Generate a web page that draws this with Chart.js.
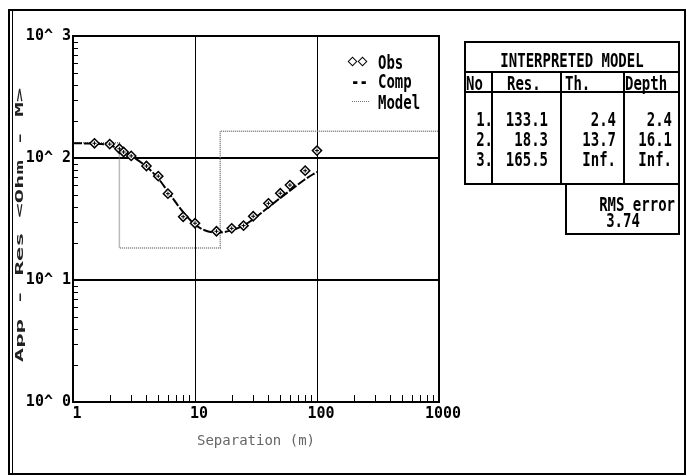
<!DOCTYPE html>
<html>
<head>
<meta charset="utf-8">
<script src="https://cdn.jsdelivr.net/npm/chart.js@4/dist/chart.umd.min.js"></script>
<style>
  html,body{margin:0;padding:0;background:#fff;}
  #wrap{position:relative;width:687px;height:476px;overflow:hidden;background:#fff;}
  #c{position:absolute;left:0;top:0;}
  .frame{position:absolute;left:8px;top:9px;width:678px;height:466px;box-sizing:border-box;border:2px solid #000;}
  .vline{position:absolute;background:#000;}
  .t{position:absolute;font:bold 14px 'DejaVu Sans Mono',monospace;line-height:14px;height:14px;white-space:pre;color:#000;transform:scaleY(1.4);transform-origin:50% 50%;}
  .r{text-align:right;}
  .dia{position:absolute;width:5px;height:5px;border:1.5px solid #000;background:#fff;transform:rotate(45deg);}
  .ytitle{position:absolute;left:20px;top:225px;font:bold 12px 'DejaVu Sans Mono',monospace;white-space:pre;color:#222;transform:translate(-50%,-50%) rotate(-90deg) scale(2,0.8);}
</style>
</head>
<body>
<div id="wrap">
  <canvas id="c" width="687" height="476"></canvas>
  <div class="frame"></div>
  <div class="vline" style="left:12px;top:11px;width:1px;height:462px;"></div>

  <!-- Y axis title -->
  <div class="ytitle">App - Res &lt;Ohm - M&gt;</div>

  <!-- Legend -->
  <div class="dia" style="left:349px;top:58px;"></div>
  <div class="dia" style="left:359px;top:58px;"></div>
  <div class="t" style="left:378px;top:55px;">Obs</div>
  <div class="t" style="left:351px;top:74px;">--</div>
  <div class="t" style="left:378px;top:74px;">Comp</div>
  <div style="position:absolute;left:352px;top:101px;width:17px;border-top:1.5px dotted #777;"></div>
  <div class="t" style="left:378px;top:95px;">Model</div>

  <!-- Interpreted model table -->
  <div style="position:absolute;left:464px;top:41px;width:216px;height:144px;box-sizing:border-box;border:2px solid #000;"></div>
  <div class="vline" style="left:464px;top:71px;width:216px;height:2px;"></div>
  <div class="vline" style="left:464px;top:91px;width:216px;height:2px;"></div>
  <div class="vline" style="left:491px;top:72px;width:2px;height:112px;"></div>
  <div class="vline" style="left:560px;top:72px;width:2px;height:112px;"></div>
  <div class="vline" style="left:623px;top:72px;width:2px;height:112px;"></div>
  <div style="position:absolute;left:565px;top:183px;width:115px;height:52px;box-sizing:border-box;border:2px solid #000;border-top:none;"></div>

  <div class="t" style="left:464px;top:53px;width:216px;text-align:center;">INTERPRETED MODEL</div>
  <div class="t" style="left:466px;top:76px;">No</div>
  <div class="t" style="left:507px;top:76px;">Res.</div>
  <div class="t" style="left:565px;top:76px;">Th.</div>
  <div class="t" style="left:625px;top:76px;">Depth</div>

  <div id="rows"></div>

  <div class="t r" style="left:575px;top:197px;width:100px;">RMS error</div>
  <div class="t" id="rms" style="left:566px;top:213px;width:114px;text-align:center;"></div>
</div>

<script>
// ---------------- DATA ----------------
// Observed apparent resistivity (Obs)
const obsSep = [1.5, 2, 2.4, 2.6, 3, 4, 5, 6, 8, 10, 15, 20, 25, 30, 40, 50, 60, 80, 100];
const obsRes = [132, 130, 119, 112, 104, 86, 71, 51, 33, 29.2, 25.1, 26.5, 27.9, 33.3, 42.5, 51.4, 60, 78.7, 115];

// Computed curve (Comp)
const compSep = [1, 1.5, 2, 2.5, 3, 4, 5, 6, 8, 10, 12, 15, 20, 25, 30, 40, 50, 60, 80, 100];
const compRes = [132, 131, 127, 116, 104, 85, 68, 53, 36, 28.5, 25.6, 24.5, 25.5, 28, 31.5, 39.5, 47, 54, 67, 77];

// Interpreted model (layers)
const layerNo    = ['1.', '2.', '3.'];
const layerRes   = [133.1, 18.3, 165.5];
const layerTh    = ['2.4', '13.7', 'Inf.'];
const layerDepth = ['2.4', '16.1', 'Inf.'];
const modelSep   = [1, 2.4, 2.4, 16.1, 16.1, 1000];
const modelRes   = [133.1, 133.1, 18.3, 18.3, 165.5, 165.5];
const rmsError   = '3.74';

// Axes
const xTickVals   = [1, 10, 100, 1000];
const xTickLabels = ['1', '10', '100', '1000'];
const yTickVals   = [1, 10, 100, 1000];
const yTickLabels = ['10^ 0', '10^ 1', '10^ 2', '10^ 3'];
const minorMult   = [2, 3, 4, 5, 6, 7, 8, 9];
const decades     = [1, 10, 100];

// ---------------- TABLE ROWS ----------------
(function(){
  const rows = document.getElementById('rows');
  const rowTop = [112, 132, 152];
  let html = '';
  for (let i = 0; i < layerNo.length; i++) {
    const t = rowTop[i];
    html += `<div class="t r" style="left:466px;top:${t}px;width:27px;">${layerNo[i]}</div>`;
    html += `<div class="t r" style="left:497px;top:${t}px;width:51px;">${layerRes[i].toFixed(1)}</div>`;
    html += `<div class="t r" style="left:565px;top:${t}px;width:51px;">${layerTh[i]}</div>`;
    html += `<div class="t r" style="left:627px;top:${t}px;width:45px;">${layerDepth[i]}</div>`;
  }
  rows.innerHTML = html;
  document.getElementById('rms').textContent = rmsError;
})();

// ---------------- CHART ----------------
const toXY = (xs, ys) => xs.map((x, i) => ({x: x, y: ys[i]}));

const frameAndTicks = {
  id: 'frameAndTicks',
  afterDatasetsDraw(chart) {
    const {ctx, chartArea: a, scales: {x, y}} = chart;
    ctx.save();
    ctx.strokeStyle = '#000';
    ctx.lineWidth = 1;
    for (const d of decades) {
      for (const m of minorMult) {
        const v = d * m;
        const px = Math.round(x.getPixelForValue(v)) + 0.5;
        ctx.beginPath(); ctx.moveTo(px, a.bottom); ctx.lineTo(px, a.bottom - 7); ctx.stroke();
        const py = Math.round(y.getPixelForValue(v)) + 0.5;
        ctx.beginPath(); ctx.moveTo(a.left, py); ctx.lineTo(a.left + 5, py); ctx.stroke();
      }
    }
    ctx.lineWidth = 2;
    ctx.strokeRect(a.left, a.top, a.right - a.left, a.bottom - a.top);
    ctx.restore();
  }
};

const tickFont = {family: "'DejaVu Sans Mono', monospace", size: 15, weight: 'bold'};

new Chart(document.getElementById('c'), {
  type: 'scatter',
  data: {
    datasets: [
      {
        label: 'Obs centre',
        data: toXY(obsSep, obsRes),
        pointStyle: 'cross',
        pointRadius: 2,
        pointBorderWidth: 1,
        pointBorderColor: '#000',
        showLine: false
      },
      {
        label: 'Obs',
        data: toXY(obsSep, obsRes),
        pointStyle: 'rectRot',
        pointRadius: 4.6,
        pointBorderWidth: 1.5,
        pointBorderColor: '#000',
        pointBackgroundColor: '#fff',
        showLine: false
      },
      {
        label: 'Comp',
        data: toXY(compSep, compRes),
        showLine: true,
        borderColor: '#000',
        borderWidth: 2,
        borderDash: [9, 2],
        pointRadius: 0,
        tension: 0.4,
        cubicInterpolationMode: 'monotone'
      },
      {
        label: 'Model',
        data: toXY(modelSep, modelRes),
        showLine: true,
        borderColor: '#777',
        borderWidth: 1.5,
        borderDash: [1, 1],
        pointRadius: 0,
        tension: 0
      }
    ]
  },
  options: {
    responsive: false,
    devicePixelRatio: 1,
    animation: false,
    events: [],
    layout: {padding: {left: 0, top: 36, right: 248, bottom: 0}},
    plugins: {legend: {display: false}, tooltip: {enabled: false}},
    scales: {
      x: {
        type: 'logarithmic',
        min: 1, max: 1000,
        afterBuildTicks: s => { s.ticks = xTickVals.map(v => ({value: v})); },
        afterFit: s => { s.height = 74; },
        ticks: {
          callback: (v, i) => xTickLabels[i],
          font: tickFont, color: '#000',
          padding: 3, labelOffset: 4,
          maxRotation: 0, autoSkip: false
        },
        grid: {color: '#000', lineWidth: 1, drawTicks: false},
        border: {display: true, color: '#000', width: 2},
        title: {
          display: true, text: 'Separation (m)', color: '#666',
          font: {family: "'DejaVu Sans Mono', monospace", size: 14},
          padding: {top: 0, bottom: 26}
        }
      },
      y: {
        type: 'logarithmic',
        min: 1, max: 1000,
        afterBuildTicks: s => { s.ticks = yTickVals.map(v => ({value: v})); },
        afterFit: s => { s.width = 73; },
        ticks: {
          callback: (v, i) => yTickLabels[i],
          font: tickFont, color: '#000',
          padding: 2, autoSkip: false
        },
        grid: {color: '#000', lineWidth: 2, drawTicks: false},
        border: {display: true, color: '#000', width: 2},
        title: {display: false}
      }
    }
  },
  plugins: [frameAndTicks]
});
</script>
</body>
</html>
